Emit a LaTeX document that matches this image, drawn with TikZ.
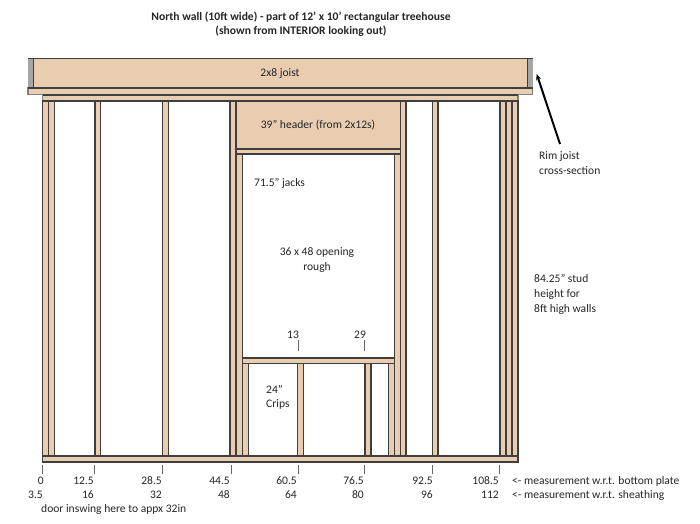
\documentclass[tikz,border=0pt]{standalone}
\usepackage{fontspec}
\setmainfont{Carlito}
\definecolor{wood}{HTML}{E8CDB0}
\definecolor{edge}{HTML}{3F3F3F}
\definecolor{rim}{HTML}{A6A6A6}
\definecolor{txt}{HTML}{262626}
\newcommand{\stud}[4]{\draw[lumber] (#1,#3) rectangle (#2,#4);}
\newcommand{\wtick}[3]{\draw[tickline] (#1,#2) -- (#1,#3);}
\tikzset{
  lumber/.style={draw=edge,fill=wood,line width=1.25pt},
  rimpart/.style={draw=edge,fill=rim,line width=1pt},
  tickline/.style={draw=edge!80,line width=0.8pt},
  lab/.style={text=txt,font=\fontsize{11.55}{14.6}\selectfont,inner sep=0pt,align=left},
  labc/.style={lab,align=center},
  numr/.style={lab,anchor=east},
  pointer/.style={draw=black,line width=2pt,-{Stealth[length=6pt,width=5pt]}}
}
\usetikzlibrary{arrows.meta}
\begin{document}
\begin{tikzpicture}[x=1pt,y=-1pt]
\useasboundingbox (0,0) rectangle (700,523);
% joist and rim
\stud{33}{528}{58.5}{88}
\draw[rimpart,draw=rim] (28,58.5) rectangle (33,88);
\draw[rimpart,draw=rim] (528,58.5) rectangle (532.5,88);
\draw[edge,line width=1pt] (28,58.5) -- (532.5,58.5);
\draw[edge,line width=1.8pt] (33.5,58.5) -- (33.5,88);
\draw[edge,line width=1.8pt] (527.5,58.5) -- (527.5,88);
\draw[lumber,draw=gray] (28,88) rectangle (532.5,94.5);
\draw[edge,line width=1.4pt] (28,88) -- (532.5,88);
% top plate
\draw[lumber,draw=gray] (42.5,94.5) rectangle (518,101);
\draw[edge,line width=1.4pt] (42.5,94.8) -- (518,94.8);
\draw[edge,line width=1.4pt] (42.5,101) -- (518,101);
% bottom plate
\draw[lumber] (42.5,456) rectangle (518,462);
% full studs
\stud{42.5}{48.3}{101}{456}
\stud{48.3}{54.3}{101}{456}
\stud{95}{100.5}{101}{456}
\stud{162.7}{168.3}{101}{456}
\stud{230}{236}{101}{456}
\stud{400.3}{406}{101}{456}
\stud{432.3}{438}{101}{456}
\stud{500}{506}{101}{456}
\stud{506}{512}{101}{456}
\stud{512}{518}{101}{456}
% header and jacks
\stud{236}{400.3}{101}{149}
\stud{236}{400.3}{149}{154}
\stud{236}{242.2}{154}{456}
\stud{394.3}{400.3}{154}{456}
% sill and cripples
\stud{242.2}{394.3}{358}{363.5}
\stud{242.2}{248.3}{363.5}{456}
\stud{297.3}{303.3}{363.5}{456}
\stud{365}{371}{363.5}{456}
\stud{388.3}{394.3}{363.5}{456}
% ticks
\wtick{42.5}{465}{474}
\wtick{94.5}{465}{474}
\wtick{162.7}{465}{474}
\wtick{231}{465}{474}
\wtick{298}{465}{474}
\wtick{364.3}{465}{474}
\wtick{432.7}{465}{474}
\wtick{499.3}{465}{474}
\wtick{298}{340}{351}
\wtick{364.3}{340}{351}
% titles
\node[labc,font=\fontsize{11.6}{14}\bfseries\selectfont] (title) at (301,24) {North wall (10ft wide) - part of 12’ x 10’ rectangular treehouse\\(shown from INTERIOR looking out)};
\node[labc] (joist) at (280,73.5) {2x8 joist};
\node[labc] (header) at (318,125) {39” header (from 2x12s)};
\node[lab,anchor=west] (jacks) at (254,183) {71.5” jacks};
\node[labc] (opening) at (317,260) {36 x 48 opening\\rough};
\node[lab,anchor=west] (crips) at (266,397.5) {24”\\Crips};
\node[labc] (t13) at (293,335) {13};
\node[labc] (t29) at (360,335) {29};
\node[lab,anchor=west] (studh) at (534,294.5) {84.25” stud\\height for\\8ft high walls};
\node[lab,anchor=west] (rimlab) at (539,163) {Rim joist\\cross-section};
\coordinate (rimtip) at (536.7,74);
\coordinate (rimtail) at (560,144);
\draw[pointer] (rimtail) -- (rimtip);
% numbers row 1
\node[numr] (a0) at (44,481) {0};
\node[numr] (a1) at (94,481) {12.5};
\node[numr] (a2) at (162,481) {28.5};
\node[numr] (a3) at (230,481) {44.5};
\node[numr] (a4) at (297,481) {60.5};
\node[numr] (a5) at (364,481) {76.5};
\node[numr] (a6) at (433,481) {92.5};
\node[numr] (a7) at (499,481) {108.5};
\node[lab,anchor=west] (m1) at (512,481) {<- measurement w.r.t. bottom plate};
% numbers row 2
\node[numr] (b0) at (43,495) {3.5};
\node[numr] (b1) at (94,495) {16};
\node[numr] (b2) at (162,495) {32};
\node[numr] (b3) at (230,495) {48};
\node[numr] (b4) at (297,495) {64};
\node[numr] (b5) at (364,495) {80};
\node[numr] (b6) at (433,495) {96};
\node[numr] (b7) at (499,495) {112};
\node[lab,anchor=west] (m2) at (512,495) {<- measurement w.r.t. sheathing};
\node[lab,anchor=west] (door) at (41,509.5) {door inswing here to appx 32in};
\end{tikzpicture}
\end{document}
